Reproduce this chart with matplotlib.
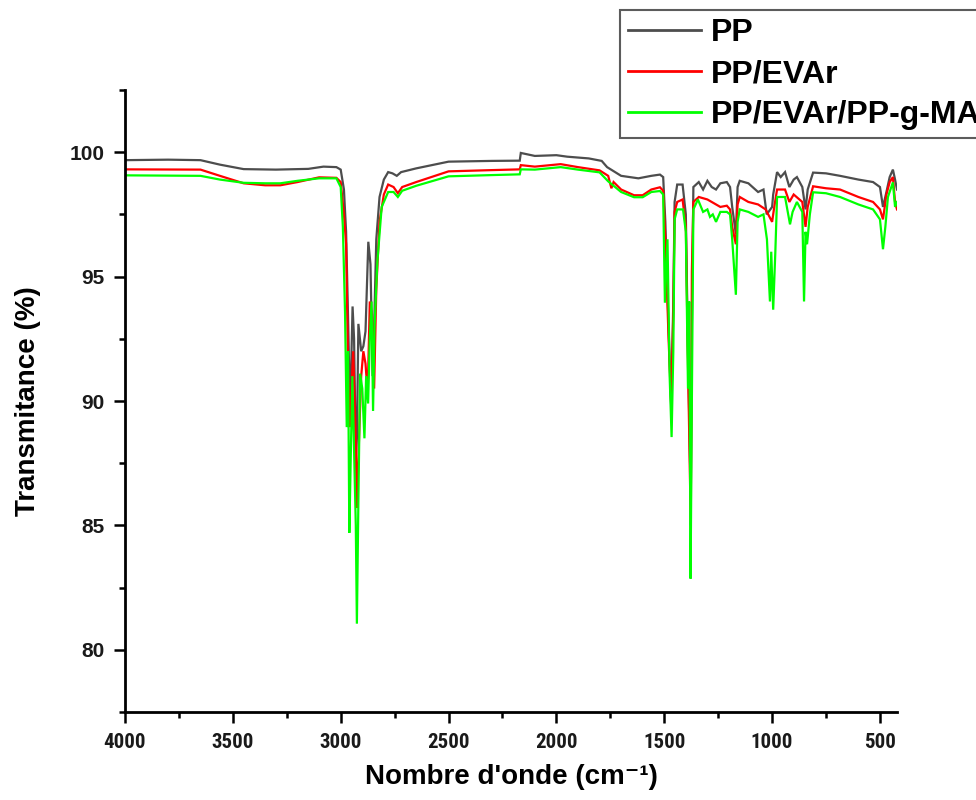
import matplotlib
matplotlib.use("Agg")
import matplotlib.pyplot as plt
from matplotlib import font_manager
from matplotlib.ticker import MultipleLocator

# ---------------- data ----------------
pp_wn = [4000, 3800, 3650, 3560, 3450, 3300, 3150, 3080, 3020, 3000, 2985, 2975, 2965, 2958,
         2952, 2945, 2938, 2930, 2925, 2918, 2905, 2895, 2885, 2872, 2862, 2852, 2845, 2835,
         2820, 2800, 2780, 2760, 2740, 2720, 2650, 2500, 2300, 2170, 2165, 2100, 2000, 1950,
         1850, 1790, 1765, 1700, 1620, 1560, 1520, 1505, 1495, 1480, 1468, 1458, 1452, 1440,
         1415, 1400, 1390, 1377, 1372, 1365, 1340, 1320, 1300, 1280, 1260, 1240, 1210, 1195,
         1185, 1168, 1160, 1150, 1110, 1065, 1040, 1025, 1000, 995, 977, 960, 940, 920, 900,
         885, 860, 845, 835, 810, 750, 685, 600, 532, 500, 486, 470, 455, 440, 430, 421]
pp_t = [99.68, 99.70, 99.68, 99.50, 99.32, 99.30, 99.33, 99.42, 99.40, 99.30, 98.5, 96.8, 93.0, 90.0,
        91.1, 93.8, 92.5, 87.7, 88.5, 93.1, 92.0, 92.2, 92.8, 96.4, 95.5, 91.0, 93.0, 96.5,
        98.2, 98.9, 99.2, 99.15, 99.05, 99.2, 99.35, 99.62, 99.65, 99.66, 99.97, 99.85, 99.88, 99.82,
        99.75, 99.65, 99.40, 99.05, 98.95, 99.05, 99.10, 99.00, 97.2, 93.0, 89.8, 94.0, 98.0, 98.7,
        98.7, 97.5, 92.0, 86.0, 93.0, 98.6, 98.8, 98.5, 98.85, 98.6, 98.5, 98.75, 98.8, 98.6,
        97.8, 96.7, 98.6, 98.85, 98.75, 98.4, 98.5, 97.5, 97.8, 98.3, 99.2, 99.0, 99.2, 98.6, 98.9,
        99.0, 98.6, 97.7, 98.5, 99.18, 99.15, 99.05, 98.9, 98.8, 98.6, 97.8, 98.4, 99.0, 99.3, 98.9, 98.5]

evar_wn = [4000, 3650, 3560, 3450, 3350, 3280, 3200, 3100, 3020, 3000, 2985, 2975, 2965, 2958,
           2950, 2942, 2932, 2925, 2915, 2905, 2895, 2885, 2875, 2865, 2855, 2845, 2835, 2820,
           2800, 2780, 2755, 2735, 2715, 2650, 2500, 2300, 2170, 2165, 2100, 1980, 1900, 1800,
           1760, 1745, 1735, 1700, 1640, 1600, 1560, 1520, 1505, 1495, 1480, 1468, 1458, 1452,
           1440, 1415, 1400, 1390, 1377, 1372, 1365, 1340, 1300, 1260, 1240, 1210, 1195, 1185,
           1168, 1160, 1150, 1110, 1065, 1030, 1000, 990, 977, 940, 920, 900, 860, 845, 835,
           810, 750, 685, 600, 532, 500, 486, 470, 455, 440, 430, 421]
evar_t = [99.31, 99.30, 99.05, 98.75, 98.67, 98.67, 98.80, 98.99, 98.97, 98.80, 97.5, 96.3, 91.0, 88.95,
          90.5, 92.0, 89.0, 85.7, 88.5, 91.0, 92.0, 91.5, 90.3, 94.0, 93.5, 90.5, 94.5, 97.2,
          98.3, 98.7, 98.6, 98.35, 98.6, 98.8, 99.23, 99.28, 99.31, 99.48, 99.42, 99.52, 99.40, 99.27,
          99.05, 98.55, 98.8, 98.5, 98.27, 98.27, 98.50, 98.59, 98.45, 96.5, 92.5, 89.9, 93.5, 97.6,
          98.0, 98.1, 97.0, 91.5, 85.0, 95.2, 98.0, 98.2, 98.1, 97.9, 97.8, 97.85, 97.7, 97.0,
          96.3, 97.9, 98.2, 98.0, 97.9, 97.7, 97.2, 97.8, 98.5, 98.5, 98.0, 98.3, 98.0, 97.0, 97.8,
          98.63, 98.55, 98.5, 98.2, 98.0, 97.7, 97.3, 98.3, 98.8, 99.0, 98.0, 97.7]

gma_wn = [4000, 3650, 3560, 3450, 3350, 3280, 3200, 3100, 3020, 3000, 2990, 2980, 2972, 2966,
          2960, 2954, 2946, 2938, 2930, 2925, 2918, 2910, 2900, 2890, 2882, 2873, 2865, 2857,
          2850, 2843, 2830, 2810, 2780, 2755, 2735, 2715, 2650, 2500, 2300, 2170, 2165, 2100,
          1980, 1900, 1800, 1760, 1700, 1640, 1600, 1560, 1520, 1505, 1497, 1485, 1475, 1466,
          1458, 1452, 1440, 1413, 1400, 1390, 1384, 1378, 1372, 1365, 1344, 1320, 1300, 1288,
          1275, 1260, 1240, 1210, 1195, 1185, 1168, 1160, 1150, 1110, 1065, 1040, 1024, 1010,
          1004, 995, 985, 977, 940, 917, 905, 885, 860, 852, 845, 838, 825, 810, 750, 685,
          600, 532, 500, 486, 475, 463, 440, 430, 421]
gma_t = [99.07, 99.05, 98.90, 98.77, 98.75, 98.75, 98.85, 98.95, 98.95, 98.6, 97.0, 93.6, 88.95, 92.0,
         84.7, 87.5, 91.0, 88.0, 85.0, 81.05, 86.0, 91.1, 90.5, 88.5, 91.0, 89.9, 92.5, 94.0,
         89.6, 93.0, 95.6, 97.8, 98.4, 98.4, 98.2, 98.45, 98.65, 99.03, 99.08, 99.11, 99.31, 99.30,
         99.40, 99.30, 99.19, 98.83, 98.4, 98.19, 98.19, 98.40, 98.44, 98.3, 93.95, 96.5, 91.0, 88.55,
         92.0, 97.3, 97.7, 97.7, 96.8, 90.5, 94.0, 82.86, 90.0, 97.7, 98.1, 97.6, 97.7, 97.4,
         97.5, 97.2, 97.6, 97.6, 97.5, 96.5, 94.27, 97.2, 97.7, 97.6, 97.4, 97.5, 96.5, 94.0,
         96.0, 93.67, 96.0, 98.2, 98.2, 97.1, 97.6, 98.0, 97.6, 94.0, 96.8, 96.3, 97.5, 98.39, 98.35, 98.2,
         97.9, 97.7, 97.3, 96.1, 97.0, 98.2, 98.79, 97.8, 98.0]

series_labels = ["PP", "PP/EVAr", "PP/EVAr/PP-g-MA"]
series_colors = ["#4d4d4d", "#ff0000", "#00ff00"]

x_label = "Nombre d'onde (cm\u207b\u00b9)"
y_label = "Transmitance (%)"
x_ticks = [4000, 3500, 3000, 2500, 2000, 1500, 1000, 500]
y_ticks = [80, 85, 90, 95, 100]

# ---------------- fonts ----------------
names = {f.name for f in font_manager.fontManager.ttflist}
base_font = "Liberation Sans" if "Liberation Sans" in names else "DejaVu Sans"
narrow_font = None
for cand in ["Liberation Sans Narrow", "DejaVu Sans Condensed", "Roboto Condensed", "Open Sans Condensed"]:
    if cand in names:
        narrow_font = cand
        break
plt.rcParams["font.family"] = [base_font, "DejaVu Sans"]

# ---------------- figure ----------------
fig = plt.figure(figsize=(9.76, 8.0), dpi=100)
ax = fig.add_axes([125 / 976, 1 - 712 / 800, (897 - 125) / 976, (712 - 90) / 800])

data = [(pp_wn, pp_t), (evar_wn, evar_t), (gma_wn, gma_t)]
for (wn, t), lab, col in zip(data, series_labels, series_colors):
    ax.plot(wn, t, color=col, lw=1.6, label=lab, solid_joinstyle="miter")

ax.set_xlim(4000, 421)
ax.set_ylim(77.5, 102.5)
ax.set_xticks(x_ticks)
ax.set_yticks(y_ticks)
ax.xaxis.set_minor_locator(MultipleLocator(250))
ax.yaxis.set_minor_locator(MultipleLocator(2.5))

for s in ["top", "right"]:
    ax.spines[s].set_visible(False)
for s in ["left", "bottom"]:
    ax.spines[s].set_linewidth(2.0)
    ax.spines[s].set_color("black")

ax.tick_params(which="major", direction="out", length=8, width=1.8, color="black")
ax.tick_params(which="minor", direction="out", length=4, width=1.8, color="black")
ax.tick_params(axis="y", which="major", pad=7, labelsize=15)
ax.tick_params(axis="x", which="major", pad=7)

for lab in ax.get_yticklabels():
    lab.set_fontweight("bold")
    lab.set_color("#1a1a1a")
for lab in ax.get_xticklabels():
    lab.set_fontweight("bold")
    lab.set_color("#1a1a1a")
    if narrow_font:
        lab.set_family([narrow_font, "DejaVu Sans"])
        lab.set_fontsize(15)
    else:
        lab.set_fontsize(12)

ax.set_xlabel(x_label, fontsize=20, fontweight="bold", labelpad=9)
ax.set_ylabel(y_label, fontsize=20, fontweight="bold", labelpad=20)

leg = fig.legend(loc="upper left", bbox_to_anchor=(620 / 976, 1 - 10 / 800),
                 bbox_transform=fig.transFigure, frameon=True, fancybox=False,
                 prop={"family": base_font, "weight": "bold", "size": 23},
                 handlelength=2.3, handletextpad=0.3, labelspacing=0.35,
                 borderpad=0.25, borderaxespad=0.0)
leg.get_frame().set_edgecolor("#333333")
leg.get_frame().set_linewidth(1.5)
for line in leg.get_lines():
    line.set_linewidth(2.0)

fig.savefig("out.png", dpi=100)
